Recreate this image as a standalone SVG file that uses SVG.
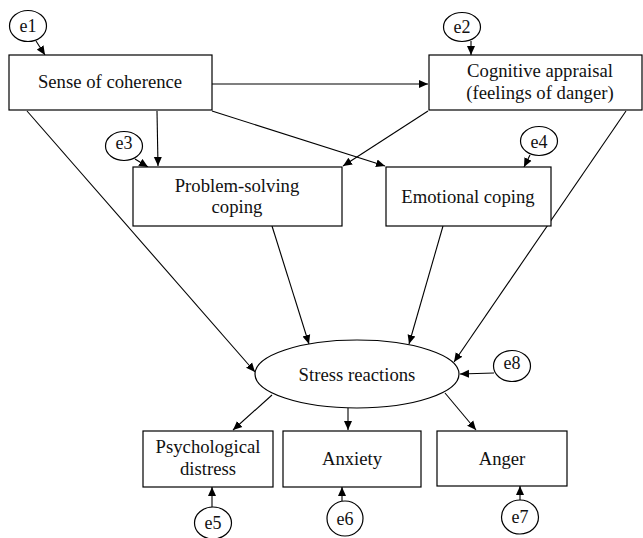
<svg xmlns="http://www.w3.org/2000/svg" width="643" height="538" viewBox="0 0 643 538">
<defs>
<marker id="ah" markerUnits="userSpaceOnUse" markerWidth="10" markerHeight="9" refX="9" refY="4.5" orient="auto">
<path d="M0,0.5 L9,4.5 L0,8.5 Z" fill="#000"/>
</marker>
<style>
.n { fill: #fff; stroke: #000; stroke-width: 1.2; }
text { font-family: 'Liberation Serif', 'Times New Roman', serif; font-size: 18.7px; fill: #111; text-anchor: middle; }
.err text { font-size: 18px; }
#connectors line { stroke: #000; stroke-width: 1.1; marker-end: url(#ah); }
</style>
</defs>
<rect width="643" height="538" fill="#fff"/>
<g id="connectors">
<line x1="212" y1="84" x2="428" y2="84"/>
<line x1="157" y1="111" x2="158" y2="166"/>
<line x1="212" y1="111" x2="385" y2="166"/>
<line x1="428" y1="111" x2="343" y2="166"/>
<line x1="27" y1="111" x2="255" y2="372"/>
<line x1="272" y1="226" x2="309" y2="344"/>
<line x1="443" y1="226" x2="409" y2="344"/>
<line x1="626" y1="111" x2="454" y2="362"/>
<line x1="272" y1="395" x2="233" y2="430"/>
<line x1="348" y1="408" x2="348" y2="430"/>
<line x1="445" y1="393" x2="476" y2="430"/>
<line x1="36" y1="41" x2="45" y2="55"/>
<line x1="471" y1="41" x2="471" y2="55"/>
<line x1="135" y1="159" x2="148" y2="167"/>
<line x1="530" y1="155" x2="524" y2="167"/>
<line x1="494" y1="373" x2="460" y2="374"/>
<line x1="212" y1="507" x2="212" y2="487"/>
<line x1="342" y1="501" x2="342" y2="487"/>
<line x1="520" y1="500" x2="520" y2="486"/>
</g>
<g id="soc"><rect class="n" x="9" y="55" width="203" height="55"/><text x="110" y="88">Sense of coherence</text></g>
<g id="ca"><rect class="n" x="429" y="55" width="213" height="55"/><text x="540" y="77">Cognitive appraisal</text><text x="540" y="99">(feelings of danger)</text></g>
<g id="psc"><rect class="n" x="133" y="167" width="209" height="59"/><text x="237" y="192">Problem-solving</text><text x="237" y="213">coping</text></g>
<g id="ec"><rect class="n" x="386" y="167" width="165" height="59"/><text x="468" y="203">Emotional coping</text></g>
<g id="stress"><ellipse class="n" cx="357" cy="374" rx="102" ry="34"/><text x="357" y="381">Stress reactions</text></g>
<g id="pd"><rect class="n" x="143" y="431" width="130" height="56"/><text x="208" y="453">Psychological</text><text x="208" y="475">distress</text></g>
<g id="anxiety"><rect class="n" x="283" y="431" width="138" height="56"/><text x="352" y="465">Anxiety</text></g>
<g id="anger"><rect class="n" x="437" y="431" width="130" height="55"/><text x="502" y="465">Anger</text></g>
<g id="e1" class="err"><ellipse class="n" cx="28" cy="26" rx="18.5" ry="15.5"/><text x="28" y="32">e1</text></g>
<g id="e2" class="err"><ellipse class="n" cx="462" cy="27" rx="18.5" ry="14.5"/><text x="462" y="33">e2</text></g>
<g id="e3" class="err"><ellipse class="n" cx="124" cy="146" rx="18.5" ry="14.5"/><text x="124" y="149">e3</text></g>
<g id="e4" class="err"><ellipse class="n" cx="539" cy="141" rx="18.5" ry="14.5"/><text x="539" y="148">e4</text></g>
<g id="e8" class="err"><ellipse class="n" cx="512" cy="366" rx="18.5" ry="15.5"/><text x="512" y="369">e8</text></g>
<g id="e5" class="err"><ellipse class="n" cx="213" cy="523" rx="18.5" ry="16"/><text x="213" y="529">e5</text></g>
<g id="e6" class="err"><ellipse class="n" cx="345" cy="518.5" rx="18" ry="17.5"/><text x="345" y="525">e6</text></g>
<g id="e7" class="err"><ellipse class="n" cx="520" cy="517" rx="18.5" ry="17"/><text x="520" y="523">e7</text></g>
</svg>
